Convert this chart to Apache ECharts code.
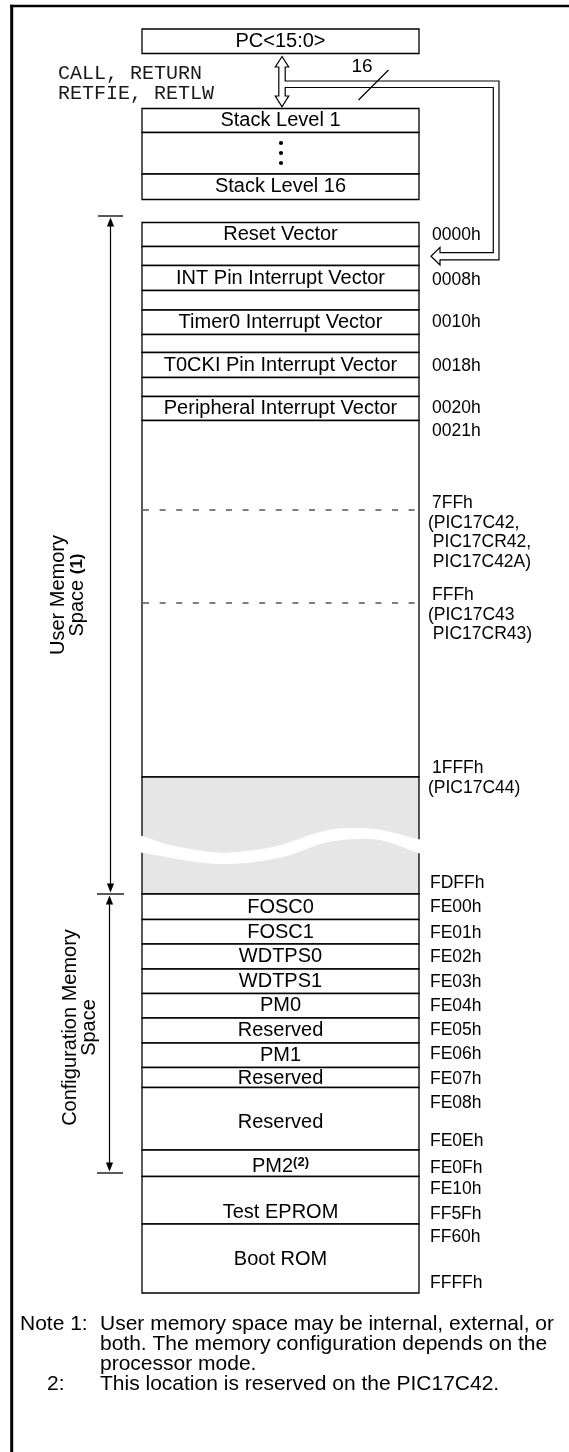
<!DOCTYPE html>
<html>
<head>
<meta charset="utf-8">
<title>PIC17C4X Program Memory Map and Stack</title>
<script src="https://cdn.jsdelivr.net/npm/echarts@6.0.0/dist/echarts.min.js"></script>
<style>
html,body{margin:0;padding:0;background:#ffffff;}
#chart{width:569px;height:1452px;}
</style>
</head>
<body>
<div id="chart"></div>
<script>
// ================= DATA =================
const pcLabel = 'PC<15:0>';
const stackOps = ['CALL, RETURN', 'RETFIE, RETLW'];
const busWidth = '16';
const stackLabels = ['Stack Level 1', '', 'Stack Level 16'];
const userLabels = ['Reset Vector', '', 'INT Pin Interrupt Vector', '', 'Timer0 Interrupt Vector', '',
  'T0CKI Pin Interrupt Vector', '', 'Peripheral Interrupt Vector', '', ''];
const userAddresses = ['0000h', '0008h', '0010h', '0018h', '0020h', '0021h'];
const deviceLimits = [
  ['7FFh', '(PIC17C42,', ' PIC17CR42,', ' PIC17C42A)'],
  ['FFFh', '(PIC17C43', ' PIC17CR43)'],
  ['1FFFh', '(PIC17C44)']
];
const configLabels = ['FOSC0', 'FOSC1', 'WDTPS0', 'WDTPS1', 'PM0', 'Reserved', 'PM1', 'Reserved',
  'Reserved', 'PM2', 'Test EPROM', 'Boot ROM'];
const configFootnotes = ['', '', '', '', '', '', '', '', '', '(2)', '', ''];
const configAddresses = ['FDFFh', 'FE00h', 'FE01h', 'FE02h', 'FE03h', 'FE04h', 'FE05h', 'FE06h',
  'FE07h', 'FE08h', 'FE0Eh', 'FE0Fh', 'FE10h', 'FF5Fh', 'FF60h', 'FFFFh'];
const spaceLabels = [['User Memory', 'Space ', '(1)'], ['Configuration Memory', 'Space', '']];
const noteLabels = ['Note 1:', '', '', '2:'];
const noteLines = [
  'User memory space may be internal, external, or',
  'both. The memory configuration depends on the',
  'processor mode.',
  'This location is reserved on the PIC17C42.'
];

// ================= LAYOUT (diagram units) =================
const L = {
  W: 569, H: 1452,
  frameX: 11.7, frameY: 6,
  boxX: [142, 419],
  pcY: [29, 53.5],
  stackEdges: [108.5, 132.5, 174, 199.5],
  dotX: 281, dotY: [143, 153, 163],
  opsX: 58, opsY: [74, 93.5],
  busText: [362, 66.5],
  slash: [[388.5, 70], [358.5, 100]],
  bus: [[282, 56.5], [288.7, 67], [285.2, 67], [285.2, 81], [499, 81], [499, 259.8],
        [440, 259.8], [440, 265], [431, 256.2], [440, 247.4], [440, 252.6], [493.3, 252.6], [493.3, 87.5],
        [285.2, 87.5], [285.2, 96], [288.7, 96], [282, 106.8], [275.3, 96], [278.8, 96],
        [278.8, 67], [275.3, 67]],
  userEdges: [222.5, 246.5, 265.5, 290.5, 310, 334.5, 352.5, 377.5, 396.5, 420.5, 777, 894],
  grayIndex: 10,
  userAddrX: 432, userAddrY: [235, 280, 322, 366, 408, 431],
  limitLineY: [510, 603], limitDashX: [143, 422],
  limitTextY: [503, 595, 768], limitX: [432, 428], lineGap: 19.7,
  wave: [[132, 834], [142, 836], [170, 845], [223, 852.7], [277, 846], [317, 832.7], [343, 828.3],
         [377, 829.3], [419, 839.3], [429, 842], [429, 856], [419, 853.3], [380, 840], [350, 839.3],
         [323, 843.3], [287, 856], [243, 863.3], [207, 863.3], [142, 852.7], [132, 850]],
  configEdges: [894, 919.5, 944, 969, 993.5, 1018, 1043, 1067.5, 1087.5, 1150, 1176.5, 1224, 1293],
  configLabelY: [907.5, 932, 956.5, 981, 1005.5, 1030.5, 1055, 1078.5, 1122, 1166, 1212, 1259],
  cfgAddrX: 430,
  cfgAddrY: [883, 907.5, 933.5, 957, 982, 1006.5, 1030, 1054, 1079, 1103, 1141.5, 1168, 1189, 1214, 1237, 1283],
  dims: [
    {x: 110.5, y0: 216, y1: 894, ticks: [[98, 123, 216], [97, 124, 894]], label: [67.5, 595]},
    {x: 109.5, y0: 894, y1: 1173, ticks: [[97, 123, 1173]], label: [79.5, 1027.5]}
  ],
  noteY: [1324, 1344, 1364, 1384], noteLabelX: [20, 20, 20, 47], noteTextX: 100
};

// ================= CHART =================
const SANS = '"Liberation Sans", Arial, Helvetica, sans-serif';
const MONO = '"Liberation Mono", "Courier New", Courier, monospace';
const INK = '#000000';
const chart = echarts.init(document.getElementById('chart'), null, {renderer: 'canvas', width: 569, height: 1452});

const boxes = [];
boxes.push({label: pcLabel, y0: L.pcY[0], y1: L.pcY[1]});
stackLabels.forEach((t, i) => boxes.push({label: t, y0: L.stackEdges[i], y1: L.stackEdges[i + 1]}));
userLabels.forEach((t, i) => boxes.push({label: t, y0: L.userEdges[i], y1: L.userEdges[i + 1],
  fill: i === L.grayIndex ? '#e6e6e6' : '#ffffff'}));
configLabels.forEach((t, i) => boxes.push({label: t, note: configFootnotes[i], y0: L.configEdges[i],
  y1: L.configEdges[i + 1], ly: L.configLabelY[i]}));

const addrItems = [];
userAddresses.forEach((t, i) => addrItems.push({text: t, x: L.userAddrX, y: L.userAddrY[i]}));
deviceLimits.forEach((lines, k) => lines.forEach((t, j) =>
  addrItems.push({text: t, x: j === 0 ? L.limitX[0] : L.limitX[1], y: L.limitTextY[k] + j * L.lineGap})));
configAddresses.forEach((t, i) => addrItems.push({text: t, x: L.cfgAddrX, y: L.cfgAddrY[i]}));

function P(api, p) { return api.coord(p); }
function idx(arr) { return arr.map((_, i) => [i, 0]); }

const series = [];

// outer frame
series.push({
  type: 'custom', name: 'frame', z: 1, data: [[0, 0]],
  renderItem: (params, api) => {
    const a = P(api, [L.frameX, L.frameY - 1.3]), b = P(api, [L.frameX, L.H]);
    const c = P(api, [L.frameX - 1.5, L.frameY]), d = P(api, [L.W, L.frameY]);
    return {type: 'group', children: [
      {type: 'line', shape: {x1: a[0], y1: a[1], x2: b[0], y2: b[1]}, style: {stroke: INK, lineWidth: 3}},
      {type: 'line', shape: {x1: c[0], y1: c[1], x2: d[0], y2: d[1]}, style: {stroke: INK, lineWidth: 2.7}}
    ]};
  }
});

// memory and stack boxes
series.push({
  type: 'custom', name: 'memory', z: 2, data: idx(boxes),
  renderItem: (params, api) => {
    const b = boxes[params.dataIndex];
    const p0 = P(api, [L.boxX[0], b.y0]);
    const p1 = P(api, [L.boxX[1], b.y1]);
    const ly = P(api, [0, b.ly != null ? b.ly : (b.y0 + b.y1) / 2])[1];
    const children = [{type: 'rect', shape: {x: p0[0], y: p0[1], width: p1[0] - p0[0], height: p1[1] - p0[1]},
      style: {fill: b.fill || '#ffffff', stroke: INK, lineWidth: 1.3}}];
    if (b.label) {
      const style = b.note
        ? {text: '{a|' + b.label + '}{s|' + b.note + '}', fill: INK,
           rich: {a: {font: '20px ' + SANS, fill: INK}, s: {font: 'bold 13px ' + SANS, fill: INK, verticalAlign: 'top'}}}
        : {text: b.label, font: '20px ' + SANS, fill: INK};
      Object.assign(style, {x: (p0[0] + p1[0]) / 2, y: ly, align: 'center', verticalAlign: 'middle'});
      children.push({type: 'text', style: style});
    }
    return {type: 'group', children: children};
  }
});

// stack ellipsis dots
series.push({
  type: 'custom', name: 'stackDots', z: 3, data: idx(L.dotY),
  renderItem: (params, api) => {
    const c = P(api, [L.dotX, L.dotY[params.dataIndex]]);
    return {type: 'circle', shape: {cx: c[0], cy: c[1], r: 2.1}, style: {fill: INK}};
  }
});

// device limit dashed lines
series.push({
  type: 'custom', name: 'limits', z: 3, data: idx(L.limitLineY),
  renderItem: (params, api) => {
    const y = L.limitLineY[params.dataIndex];
    const a = P(api, [L.limitDashX[0], y]), b = P(api, [L.limitDashX[1], y]);
    return {type: 'line', shape: {x1: a[0], y1: a[1], x2: b[0], y2: b[1]},
      style: {stroke: INK, lineWidth: 1.1, lineDash: [6, 10.6]}};
  }
});

// break (wave) in unimplemented region
series.push({
  type: 'custom', name: 'break', z: 4, data: [[0, 0]],
  renderItem: (params, api) => ({
    type: 'polygon', shape: {points: L.wave.map(p => P(api, p)), smooth: 0.3},
    style: {fill: '#ffffff', stroke: null}
  })
});

// address labels
series.push({
  type: 'custom', name: 'addresses', z: 5, data: idx(addrItems),
  renderItem: (params, api) => {
    const it = addrItems[params.dataIndex];
    const p = P(api, [it.x, it.y]);
    return {type: 'text', style: {text: it.text, x: p[0], y: p[1], font: '17.5px ' + SANS, fill: INK,
      align: 'left', verticalAlign: 'middle'}};
  }
});

// PC <-> stack bus, branch to reset vector
series.push({
  type: 'custom', name: 'bus', z: 5, data: [[0, 0]],
  renderItem: (params, api) => {
    const s0 = P(api, L.slash[0]), s1 = P(api, L.slash[1]);
    const bt = P(api, L.busText);
    const kids = [
      {type: 'polygon', shape: {points: L.bus.map(p => P(api, p))}, style: {fill: '#ffffff', stroke: INK, lineWidth: 1.2}},
      {type: 'line', shape: {x1: s0[0], y1: s0[1], x2: s1[0], y2: s1[1]}, style: {stroke: INK, lineWidth: 1.2}},
      {type: 'text', style: {text: busWidth, x: bt[0], y: bt[1], font: '19px ' + SANS, fill: INK, align: 'center', verticalAlign: 'middle'}}
    ];
    stackOps.forEach((t, i) => {
      const q = P(api, [L.opsX, L.opsY[i]]);
      kids.push({type: 'text', style: {text: t, x: q[0], y: q[1], font: '20px ' + MONO, fill: '#1a1a1a', align: 'left', verticalAlign: 'middle'}});
    });
    return {type: 'group', children: kids};
  }
});

// dimension arrows and rotated space labels
series.push({
  type: 'custom', name: 'spaces', z: 5, data: idx(L.dims),
  renderItem: (params, api) => {
    const d = L.dims[params.dataIndex];
    const lab = spaceLabels[params.dataIndex];
    const top = P(api, [d.x, d.y0 + 1.5]), bot = P(api, [d.x, d.y1 - 1.5]);
    const ah = 9, aw = 3.6;
    const kids = [
      {type: 'line', shape: {x1: top[0], y1: top[1] + 3, x2: bot[0], y2: bot[1] - 3}, style: {stroke: INK, lineWidth: 1.2}},
      {type: 'polygon', shape: {points: [[top[0], top[1]], [top[0] + aw, top[1] + ah], [top[0] - aw, top[1] + ah]]}, style: {fill: INK}},
      {type: 'polygon', shape: {points: [[bot[0], bot[1]], [bot[0] + aw, bot[1] - ah], [bot[0] - aw, bot[1] - ah]]}, style: {fill: INK}}
    ];
    d.ticks.forEach(t => {
      const a = P(api, [t[0], t[2]]), b = P(api, [t[1], t[2]]);
      kids.push({type: 'line', shape: {x1: a[0], y1: a[1], x2: b[0], y2: b[1]}, style: {stroke: INK, lineWidth: 1.3}});
    });
    const c = P(api, d.label);
    const txt = lab[0] + '\n' + '{b|' + lab[1] + '}' + (lab[2] ? '{c|' + lab[2] + '}' : '');
    kids.push({type: 'text', x: c[0], y: c[1], rotation: Math.PI / 2,
      style: {text: txt, x: 0, y: 0, font: '20px ' + SANS, fill: INK, align: 'center', verticalAlign: 'middle', lineHeight: 19,
        rich: {b: {font: '20px ' + SANS, fill: INK, lineHeight: 19}, c: {font: 'bold 17px ' + SANS, fill: INK, lineHeight: 19}}}});
    return {type: 'group', children: kids};
  }
});

// notes
series.push({
  type: 'custom', name: 'notes', z: 5, data: idx(noteLines),
  renderItem: (params, api) => {
    const i = params.dataIndex;
    const a = P(api, [L.noteLabelX[i], L.noteY[i]]), b = P(api, [L.noteTextX, L.noteY[i]]);
    const kids = [{type: 'text', style: {text: noteLines[i], x: b[0], y: b[1], font: '21px ' + SANS, fill: INK, align: 'left', verticalAlign: 'middle'}}];
    if (noteLabels[i]) kids.push({type: 'text', style: {text: noteLabels[i], x: a[0], y: a[1], font: '21px ' + SANS, fill: INK, align: 'left', verticalAlign: 'middle'}});
    return {type: 'group', children: kids};
  }
});

chart.setOption({
  animation: false,
  backgroundColor: '#ffffff',
  grid: {left: 0, right: 0, top: 0, bottom: 0, containLabel: false},
  xAxis: {type: 'value', min: 0, max: L.W, show: false},
  yAxis: {type: 'value', min: 0, max: L.H, inverse: true, show: false},
  tooltip: {show: false},
  series: series
});
</script>
</body>
</html>
